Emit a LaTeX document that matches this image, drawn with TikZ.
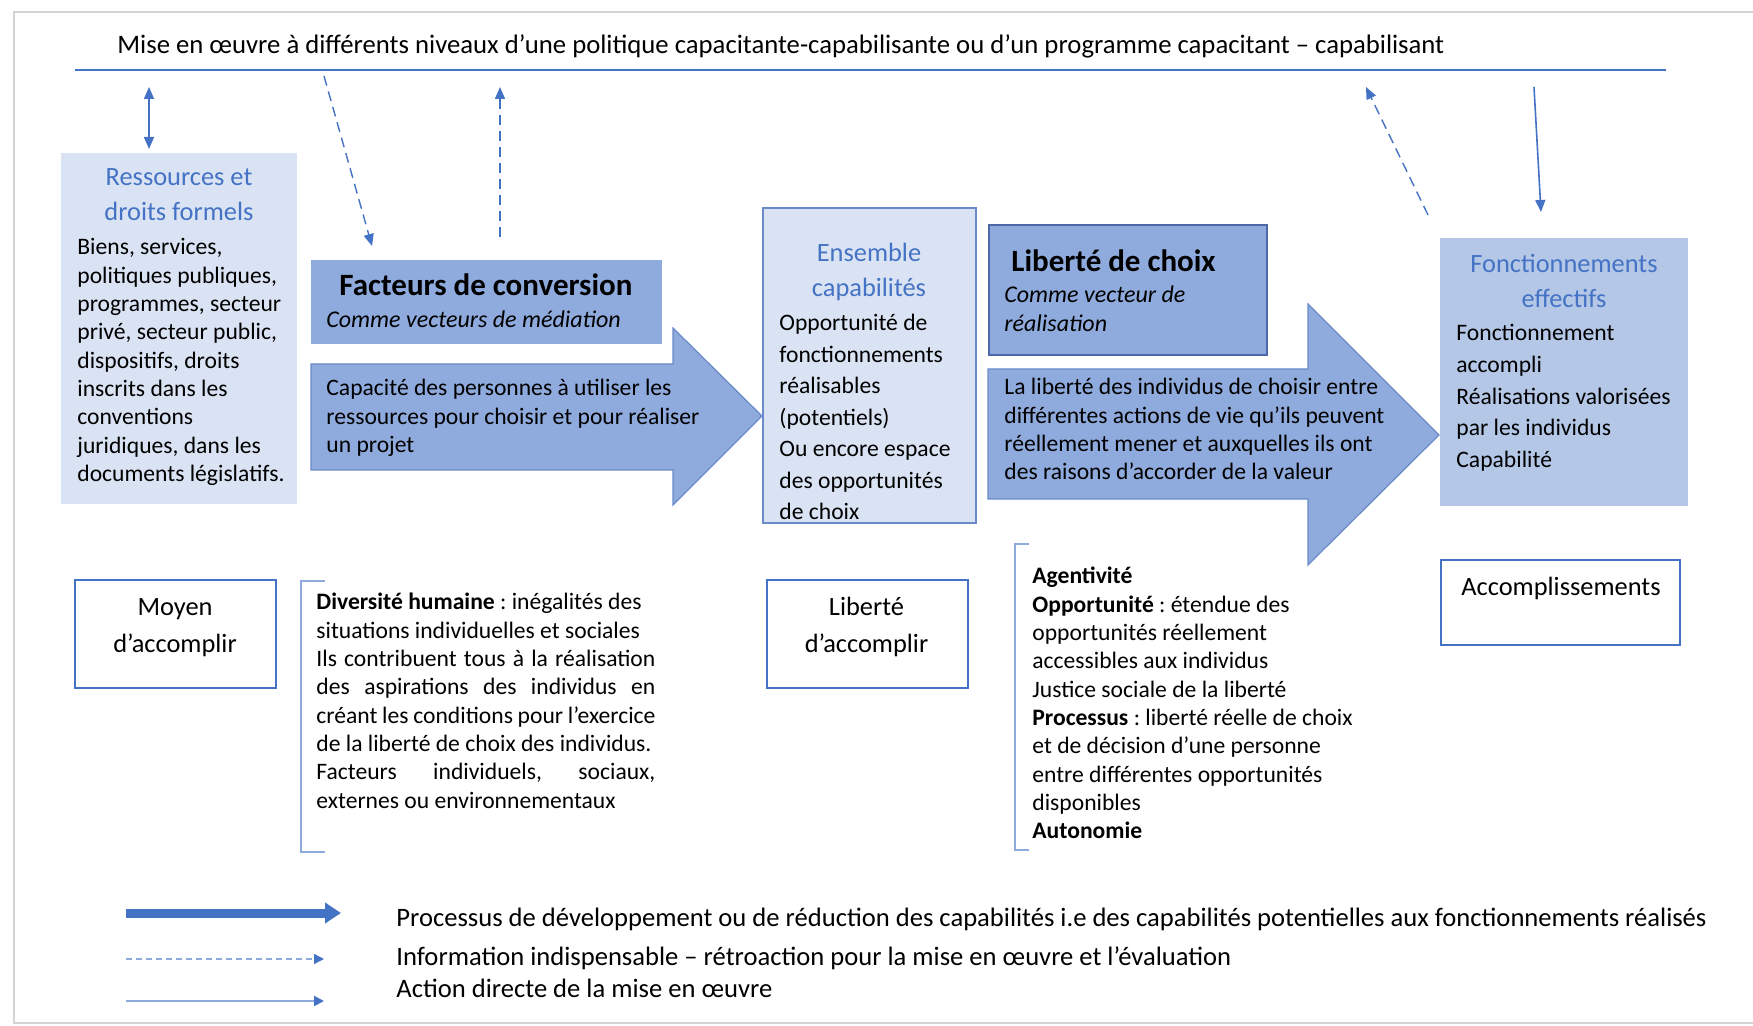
\documentclass[tikz,border=0pt]{standalone}
\usepackage{fontspec}
\setmainfont{Carlito}
\frenchspacing
\usetikzlibrary{arrows.meta}
\definecolor{deepblue}{HTML}{4472C4}
\definecolor{midblue}{HTML}{8FAADC}
\definecolor{paleblue}{HTML}{DAE3F3}
\definecolor{softblue}{HTML}{B4C7E7}
\definecolor{edgeblue}{HTML}{6A8AC8}
\definecolor{darkedge}{HTML}{4A68A6}
\definecolor{framegray}{HTML}{D4D4D4}
\begin{document}
\begin{tikzpicture}[x=0.5pt,y=-0.5pt,
  >={Triangle[length=6pt,width=5pt]},
  txt/.style={inner sep=0pt,anchor=base west,text width=210pt,align=flush left,font=\fontsize{11.8}{14.15}\selectfont},
  headtxt/.style={inner sep=0pt,anchor=base,text width=130pt,align=flush center,text=deepblue,font=\fontsize{13.2}{17.5}\selectfont},
  midtxt/.style={inner sep=0pt,anchor=base,text width=120pt,align=flush center,font=\fontsize{13.2}{18.5}\selectfont},
  boldtxt/.style={inner sep=0pt,anchor=base west,font=\fontsize{15.5}{18}\selectfont\bfseries},
  itxt/.style={inner sep=0pt,anchor=base west,text width=160pt,align=flush left,font=\fontsize{12}{14.5}\selectfont\itshape},
  legtxt/.style={inner sep=0pt,anchor=base west,font=\fontsize{13.3}{16}\selectfont},
  boite/.style={rectangle,anchor=north west,inner sep=0pt},
  cadre/.style={boite,draw=deepblue,line width=1.2pt,fill=white},
  crochet/.style={draw=midblue,line width=1pt},
  plein/.style={draw=deepblue,line width=0.8pt},
  tirets/.style={draw=deepblue,line width=0.7pt,dash pattern=on 5pt off 3pt},
  fleche/.style={fill=midblue,draw=edgeblue,line width=0.6pt}]
\useasboundingbox (0,0) rectangle (1753,1026);
\draw[framegray,line width=1pt] (1753,12) -- (14,12) -- (14,1023) -- (1753,1023);

\node[legtxt,font=\fontsize{13.35}{16}\selectfont] (titre) at (117,54) {Mise en œuvre à différents niveaux d’une politique capacitante-capabilisante ou d’un programme capacitant – capabilisant};
\coordinate (ligneg) at (75,70);
\coordinate (ligned) at (1666,70);
\path[draw=deepblue,line width=1pt] (ligneg) -- (ligned);

\coordinate (a1) at (149,87);
\coordinate (a2) at (149,149);
\path[plein,<->] (a1) -- (a2);
\coordinate (b1) at (324,76);
\coordinate (b2) at (372,246);
\path[tirets,->] (b1) -- (b2);
\coordinate (c1) at (500,237);
\coordinate (c2) at (500,87);
\path[tirets,->] (c1) -- (c2);
\coordinate (d1) at (1428,215);
\coordinate (d2) at (1366,87);
\path[tirets,->] (d1) -- (d2);
\coordinate (e1) at (1534,87);
\coordinate (e2) at (1541,212);
\path[plein,->] (e1) -- (e2);

\node[boite,fill=paleblue,minimum width=118pt,minimum height=175.5pt] (ress) at (61,153) {};
\node[headtxt] (resst) at (179,186) {Ressources et\\droits formels};
\node[txt] (ressb) at (77,255) {Biens, services,\\politiques publiques,\\programmes, secteur\\privé, secteur public,\\dispositifs, droits\\inscrits dans les\\conventions\\juridiques, dans les\\documents législatifs.};

\node[boite,fill=midblue,minimum width=175.5pt,minimum height=42pt] (fact) at (311,260) {};
\node[boldtxt] (factt) at (339,296) {Facteurs de conversion};
\node[itxt] (facti) at (326,328) {Comme vecteurs de médiation};

\path[fleche] (311,364) -- (673,364) -- (673,328) -- (762,416) -- (673,505) -- (673,470) -- (311,470) -- cycle;
\node[txt] (flecheun) at (326,396) {Capacité des personnes à utiliser les\\ressources pour choisir et pour réaliser\\un projet};

\node[boite,fill=paleblue,draw=edgeblue,line width=0.8pt,minimum width=106.5pt,minimum height=157.5pt] (ens) at (762,207) {};
\node[headtxt] (enst) at (869,262) {Ensemble\\capabilités};
\node[txt,font=\fontsize{11.8}{15.75}\selectfont] (ensb) at (779,331) {Opportunité de\\fonctionnements\\réalisables\\(potentiels)\\Ou encore espace\\des opportunités\\de choix};

\node[boite,fill=midblue,draw=darkedge,line width=1pt,minimum width=139pt,minimum height=65pt] (lib) at (988,224) {};
\node[boldtxt] (libt) at (1011,272) {Liberté de choix};
\node[itxt] (libi) at (1004,303) {Comme vecteur de\\réalisation};

\path[fleche] (988,369) -- (1308,369) -- (1308,304) -- (1439,435) -- (1308,565) -- (1308,499) -- (988,499) -- cycle;
\node[txt] (flechedeux) at (1004,395) {La liberté des individus de choisir entre\\différentes actions de vie qu’ils peuvent\\réellement mener et auxquelles ils ont\\des raisons d’accorder de la valeur};

\node[boite,fill=softblue,minimum width=124pt,minimum height=134pt] (fonc) at (1440,238) {};
\node[headtxt] (fonct) at (1564,273) {Fonctionnements\\effectifs};
\node[txt,font=\fontsize{11.8}{15.8}\selectfont] (foncb) at (1456,341) {Fonctionnement\\accompli\\Réalisations valorisées\\par les individus\\Capabilité};

\node[cadre,minimum width=100.5pt,minimum height=54pt] (moyen) at (74,579) {};
\node[midtxt] (moyent) at (175,616) {Moyen\\d’accomplir};
\path[crochet] (325,581) -- (301,581) -- (301,852) -- (325,852);
\node[txt,text width=169.5pt,align=justify] (divers) at (316,610) {\textbf{Diversité humaine} : inégalités des\\situations individuelles et sociales\\Ils contribuent tous à la réalisation\linebreak des aspirations des individus en\linebreak créant les conditions pour l’exercice\linebreak de la liberté de choix des individus.\\Facteurs individuels, sociaux,\linebreak externes ou environnementaux};

\node[cadre,minimum width=100.5pt,minimum height=54pt] (libacc) at (766,579) {};
\node[midtxt] (libacct) at (866.5,616) {Liberté\\d’accomplir};
\path[crochet] (1029,544) -- (1015,544) -- (1015,850) -- (1029,850);
\node[txt] (agent) at (1032,584) {\textbf{Agentivité}\\\textbf{Opportunité} : étendue des\\opportunités réellement\\accessibles aux individus\\Justice sociale de la liberté\\\textbf{Processus} : liberté réelle de choix\\et de décision d’une personne\\entre différentes opportunités\\disponibles\\\textbf{Autonomie}};

\node[cadre,minimum width=119.5pt,minimum height=42.5pt] (accomp) at (1440,559) {};
\node[midtxt] (accompt) at (1561,596) {Accomplissements};

\coordinate (g1) at (126,913);
\coordinate (g2) at (341,913);
\path[draw=deepblue,line width=4.5pt,-{Triangle[length=8pt,width=10pt]}] (g1) -- (g2);
\coordinate (h1) at (126,959);
\coordinate (h2) at (324,959);
\path[draw=midblue,line width=0.7pt,dash pattern=on 3pt off 2pt,-{Triangle[length=5pt,width=5pt,color=deepblue,fill=deepblue]}] (h1) -- (h2);
\coordinate (k1) at (126,1001);
\coordinate (k2) at (324,1001);
\path[draw=midblue,line width=1pt,-{Triangle[length=5pt,width=5pt,color=deepblue,fill=deepblue]}] (k1) -- (k2);
\node[legtxt] (leg1) at (396,926) {Processus de développement ou de réduction des capabilités i.e des capabilités potentielles aux fonctionnements réalisés};
\node[legtxt] (leg2) at (396,965) {Information indispensable – rétroaction pour la mise en œuvre et l’évaluation};
\node[legtxt] (leg3) at (396,997) {Action directe de la mise en œuvre};
\end{tikzpicture}
\end{document}
